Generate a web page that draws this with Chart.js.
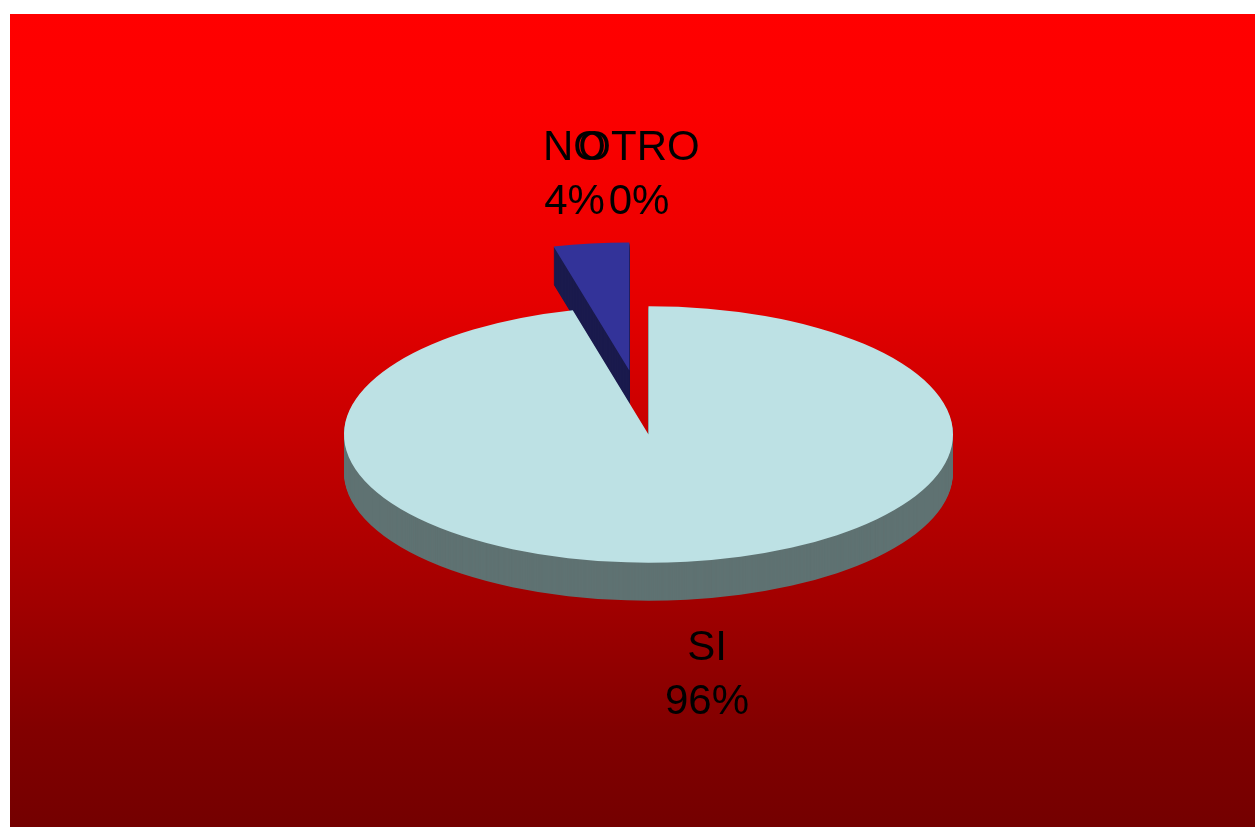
<!DOCTYPE html>
<html>
<head>
<meta charset="utf-8">
<style>
  html, body { margin: 0; padding: 0; background: #fff; overflow: hidden; }
  #wrap { position: absolute; left: 10px; top: 14px; width: 1245px; height: 813px; }
</style>
<script src="https://cdn.jsdelivr.net/npm/chart.js@4/dist/chart.umd.min.js"></script>
</head>
<body>
<div id="wrap"><canvas id="tarta" width="1245" height="813"></canvas></div>
<script>
// Datos
const categorias = ['SI', 'NO', 'OTRO'];
const valores = [96, 4, 0];

// Colores de la cara superior y del lateral
const colores = ['#BDE1E4', '#333399', '#FF0000'];
const lateral = ['#5F7272', '#1A1A4D', '#800000'];

// Separacion de cada porcion respecto al centro, en px antes de aplastar
const separacion = [0, 153, 0];

// Sitio de cada etiqueta (centro en x, base de la primera linea), en px del canvas
const etiquetaX = [697, 564.5, 629];
const etiquetaY = [646, 146, 146];

const APLASTADO = 0.421; // relacion y/x de la elipse
const GROSOR = 38;       // grosor del lateral en px

// Fondo: rojo que baja poco arriba y mas deprisa en el centro
const fondo = [
    [0, '#FF0000'],
    [0.12, '#FC0000'],
    [0.28, '#EE0000'],
    [0.35, '#E60000'],
    [0.51, '#C80000'],
    [0.73, '#A00000'],
    [0.88, '#820000'],
    [1, '#740000']
];

const tarta3d = {
    id: 'tarta3d',
    beforeDraw(chart) {
        const ctx = chart.ctx;
        const grad = ctx.createLinearGradient(0, 0, 0, chart.height);
        fondo.forEach(p => grad.addColorStop(p[0], p[1]));
        ctx.save();
        ctx.fillStyle = grad;
        ctx.fillRect(0, 0, chart.width, chart.height);
        ctx.restore();
    },
    beforeDatasetDraw(chart, args) {
        const ctx = chart.ctx;
        const arcos = args.meta.data;
        const cy = arcos[0].y;
        // dibuja el arco aplastado, separado y bajado d px
        const pintar = (arco, i, color, d) => {
            const medio = (arco.startAngle + arco.endAngle) / 2;
            const copia = Object.create(arco);
            copia.options = Object.assign({}, arco.options, { backgroundColor: color });
            ctx.save();
            ctx.translate(0, cy + d);
            ctx.scale(1, APLASTADO);
            ctx.translate(Math.cos(medio) * separacion[i], -cy + Math.sin(medio) * separacion[i]);
            copia.draw(ctx);
            ctx.restore();
        };
        for (let d = GROSOR; d > 0; d--) {
            arcos.forEach((arco, i) => pintar(arco, i, lateral[i], d));
        }
        arcos.forEach((arco, i) => pintar(arco, i, colores[i], 0));
        return false; // ya esta dibujado
    },
    afterDraw(chart) {
        const ctx = chart.ctx;
        const total = valores.reduce((a, b) => a + b, 0);
        ctx.save();
        ctx.fillStyle = '#000';
        ctx.font = '42px "Liberation Sans"';
        ctx.textAlign = 'center';
        ctx.textBaseline = 'alphabetic';
        categorias.forEach((cat, i) => {
            ctx.fillText(cat, etiquetaX[i], etiquetaY[i]);
            ctx.fillText(Math.round(valores[i] / total * 100) + '%', etiquetaX[i], etiquetaY[i] + 54);
        });
        ctx.restore();
    }
};

new Chart(document.getElementById('tarta').getContext('2d'), {
    type: 'pie',
    data: {
        labels: categorias,
        datasets: [{
            data: valores,
            backgroundColor: colores,
            borderWidth: 0,
            clip: false
        }]
    },
    options: {
        responsive: false,
        animation: false,
        radius: 304.5,
        layout: { padding: { left: 32, top: 28 } },
        plugins: {
            legend: { display: false },
            tooltip: { enabled: false }
        }
    },
    plugins: [tarta3d]
});
</script>
</body>
</html>
